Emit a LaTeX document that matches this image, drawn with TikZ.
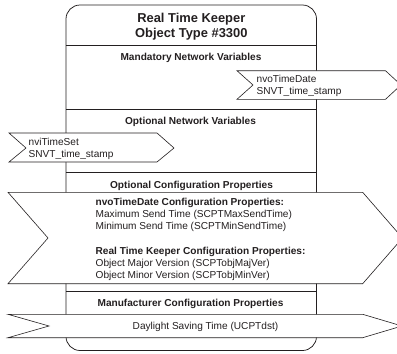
\documentclass[tikz,border=0pt]{standalone}
\usepackage{fontspec}
\setmainfont{Liberation Sans}
\definecolor{ink}{HTML}{231F20}
\tikzset{
  x=1pt,y=-1pt,
  frameline/.style={draw=ink,line width=0.75pt},
  tag/.style={draw=ink,line width=0.6pt,fill=white,line join=miter},
  heading/.style={anchor=center,font=\fontsize{10.1}{12}\selectfont\bfseries,text=ink,inner sep=0pt},
  titletext/.style={anchor=center,align=center,font=\fontsize{12.9}{15.3}\selectfont\bfseries,text=ink,inner sep=0pt},
  plain/.style={anchor=west,align=left,font=\fontsize{10.1}{12.2}\selectfont,text=ink,inner sep=0pt}
}
\begin{document}
\begin{tikzpicture}
\useasboundingbox (0,0) rectangle (397,354);
\clip (0,0) rectangle (397,354);
\path[frameline] (66,350.5) [rounded corners=14pt] -- (66,5) -- (316.5,5) -- (316.5,350.5) -- cycle;
\foreach \y in {45,109,172.7,291} \draw[frameline] (66,\y) -- (316.5,\y);
\node[titletext] (title) at (191.3,26.5) {Real Time Keeper\\Object Type \#3300};
\node[heading] (mandatory) at (191,57.5) {Mandatory Network Variables};
\node[heading] (optional) at (190.5,122) {Optional Network Variables};
\node[heading] (optconf) at (191.5,185.5) {Optional Configuration Properties};
\node[heading] (manuf) at (190.5,303.5) {Manufacturer Configuration Properties};
\path[tag] (237,70.7) -- (385.5,70.7) -- (401,85) -- (385.5,99.3) -- (237,99.3) -- (253,85) -- cycle;
\node[plain] (nvo) at (256.5,86) {nvoTimeDate\\SNVT\_time\_stamp};
\path[tag] (9,133) -- (157,133) -- (174,148) -- (157,162) -- (9,162) -- (26,148) -- cycle;
\node[plain] (nvi) at (28.5,148.5) {nviTimeSet\\SNVT\_time\_stamp};
\path[tag] (8,192.3) -- (362.7,192.3) -- (402.5,238) -- (362.7,283.7) -- (8,283.7) -- (48,238) -- cycle;
\node[plain,font=\fontsize{10.1}{12}\selectfont] (conf) at (95.5,239.3) {\textbf{nvoTimeDate Configuration Properties:}\\Maximum Send Time (SCPTMaxSendTime)\\Minimum Send Time (SCPTMinSendTime)\\[12.5pt]\textbf{Real Time Keeper Configuration Properties:}\\Object Major Version (SCPTobjMajVer)\\Object Minor Version (SCPTobjMinVer)};
\path[tag] (8,314.3) -- (362.7,314.3) -- (402,326) -- (362.7,337.7) -- (8,337.7) -- (49,326) -- cycle;
\node[plain,anchor=center] (dst) at (205.5,327) {Daylight Saving Time (UCPTdst)};
\end{tikzpicture}
\end{document}
